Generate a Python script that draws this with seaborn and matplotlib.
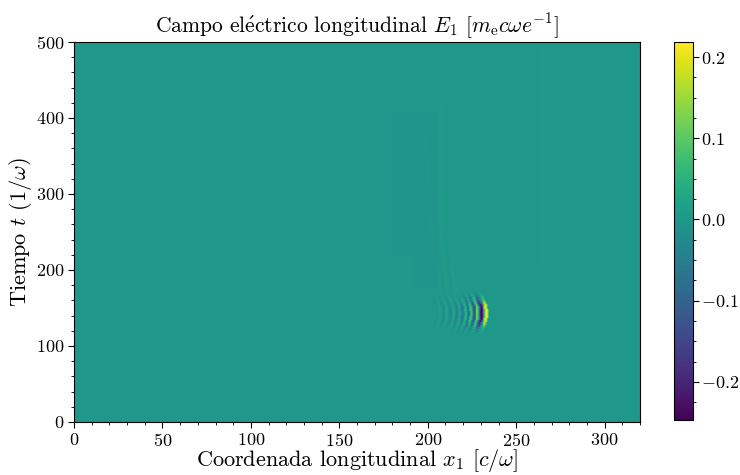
import numpy as np
import matplotlib
matplotlib.use("Agg")
import matplotlib.pyplot as plt
from matplotlib.ticker import MultipleLocator
import seaborn as sns

# ---------------- data ----------------
x_max, t_max = 320, 500           # data extent
dx, dt = 0.5, 1.0                 # grid resolution

# wave packet: stripe centres (x at packet centre) and amplitudes
packet_x = [232.9, 230.1, 227.7, 226.2, 224.3, 222.8, 221.1, 219.8,
            217.7, 216.4, 214.3, 212.6, 210.7, 208.6, 206.9, 205.2]
packet_val = [0.2185, -0.247, 0.12, -0.13, 0.08, -0.09, 0.06, -0.06,
              0.04, -0.045, 0.03, -0.03, 0.02, -0.02, 0.012, -0.012]
# vertical envelope of the packet (rows in t), weight and arc shift in x
packet_t = [117, 120, 123, 126, 129, 132, 135, 138, 141, 144, 147, 150,
            153, 156, 159, 162, 165, 168, 171]
packet_w = [0.08, 0.15, 0.3, 0.5, 0.7, 0.85, 0.93, 0.98, 1.0, 1.0, 0.98,
            0.93, 0.85, 0.72, 0.55, 0.38, 0.22, 0.12, 0.06]
packet_shift = [-3.2, -2.6, -2.0, -1.5, -1.0, -0.6, -0.3, -0.1, 0.0, 0.0,
                -0.1, -0.3, -0.6, -1.0, -1.5, -2.0, -2.6, -3.2, -3.8]

# faint wake streaks behind the packet: (x0, t0) -> (x1, t1), value
wake_x0 = [206.8, 210.5, 213.5, 216.5, 208.5, 204.5]
wake_t0 = [168, 166, 165, 164, 170, 175]
wake_x1 = [206.8, 207.5, 210.5, 213.0, 203.0, 198.0]
wake_t1 = [420, 250, 225, 205, 300, 380]
wake_val = [0.004, 0.008, -0.006, 0.007, -0.004, 0.003]

# faint shadow region left of the wake
shadow_x0, shadow_x1 = [180, 192], [206, 206]
shadow_t0, shadow_t1 = [220, 175], [410, 220]
shadow_val = [-0.004, -0.005]

# faint noisy band near the right boundary
band_x = [250.0, 252.5, 255.0, 257.5, 260.0, 262.5, 264.6]
band_val = [0.004, -0.004, 0.004, -0.004, 0.004, -0.004, 0.01]
band_t0 = [215, 215, 215, 215, 215, 215, 210]
band_t1 = [500, 500, 500, 500, 500, 500, 500]

# ---------------- build the field table ----------------
nx, nt = int(x_max / dx), int(t_max / dt)
field = np.zeros((nt, nx))
kernel = [0.35, 0.8, 1.0, 0.8, 0.35]
half = len(kernel) // 2

for xc, v in zip(packet_x, packet_val):
    for tc, w, s in zip(packet_t, packet_w, packet_shift):
        ci = int(round((xc + s) / dx))
        for r in range(int(tc - 1), int(tc + 2)):
            for k, kv in enumerate(kernel):
                field[r, ci + k - half] += v * w * kv

for x0, t0, x1, t1, v in zip(wake_x0, wake_t0, wake_x1, wake_t1, wake_val):
    for r in range(t0, t1):
        f = (r - t0) / max(t1 - t0, 1)
        ci = int(round((x0 + (x1 - x0) * f) / dx))
        field[r, ci - 1:ci + 2] += v

for x0, x1, t0, t1, v in zip(shadow_x0, shadow_x1, shadow_t0, shadow_t1, shadow_val):
    field[t0:t1, int(x0 / dx):int(x1 / dx)] += v

for xb, v, t0, t1 in zip(band_x, band_val, band_t0, band_t1):
    ci = int(round(xb / dx))
    field[t0:t1, ci] += v

# ---------------- plot ----------------
sns.set_theme(style="ticks")
plt.rcParams.update({
    "font.family": ["cmr10", "DejaVu Serif"],
    "mathtext.fontset": "cm",
    "axes.formatter.use_mathtext": True,
    "axes.unicode_minus": True,
    "xtick.direction": "out",
    "ytick.direction": "out",
    "axes.edgecolor": "black",
    "xtick.color": "black",
    "ytick.color": "black",
    "text.color": "black",
    "axes.labelcolor": "black",
})

fig = plt.figure(figsize=(7.4, 4.75), dpi=100)
ax = fig.add_axes([74 / 740, 53 / 475, 566 / 740, 380 / 475])
cax = fig.add_axes([674 / 740, 55 / 475, 19 / 740, 378 / 475])

sns.heatmap(field, ax=ax, cmap="viridis", vmin=field.min(), vmax=field.max(),
            cbar_ax=cax, xticklabels=False, yticklabels=False, rasterized=True)

ax.set_xlim(0, nx)
ax.set_ylim(0, nt)
for s in ax.spines.values():
    s.set_visible(True)
    s.set_color("black")
    s.set_linewidth(0.8)

xt = [0, 50, 100, 150, 200, 250, 300]
yt = [0, 100, 200, 300, 400, 500]
ax.set_xticks([v / dx for v in xt])
ax.set_xticklabels([f"${v}$" for v in xt])
ax.set_yticks([v / dt for v in yt])
ax.set_yticklabels([f"${v}$" for v in yt], rotation=0)
ax.xaxis.set_minor_locator(MultipleLocator(10 / dx))
ax.yaxis.set_minor_locator(MultipleLocator(20 / dt))
ax.tick_params(which="major", length=4, width=0.8, labelsize=13, pad=3,
               bottom=True, left=True)
ax.tick_params(which="minor", length=2, width=0.6, bottom=True, left=True)

ax.set_xlabel(r"Coordenada longitudinal $x_1$ [$c/\omega$]", fontsize=16, labelpad=-1)
ax.set_ylabel(r"Tiempo $t$ ($1/\omega$)", fontsize=16, labelpad=1)
ax.set_title(r"Campo el$\mathrm{\acute{e}}$ctrico longitudinal $E_1$ [$m_\mathrm{e}c\omega e^{-1}$]",
             fontsize=15.5, pad=7)

cbar = ax.collections[0].colorbar
cbar.outline.set_visible(True)
cbar.outline.set_linewidth(0.8)
cbar.outline.set_edgecolor("black")
cbar.set_ticks([-0.2, -0.1, 0.0, 0.1, 0.2])
cax.yaxis.set_minor_locator(MultipleLocator(0.025))
cax.tick_params(which="major", length=4, width=0.8, labelsize=13, pad=2, right=True)
cax.tick_params(which="minor", length=2, width=0.6, right=True)

fig.savefig("out.png", dpi=100)
